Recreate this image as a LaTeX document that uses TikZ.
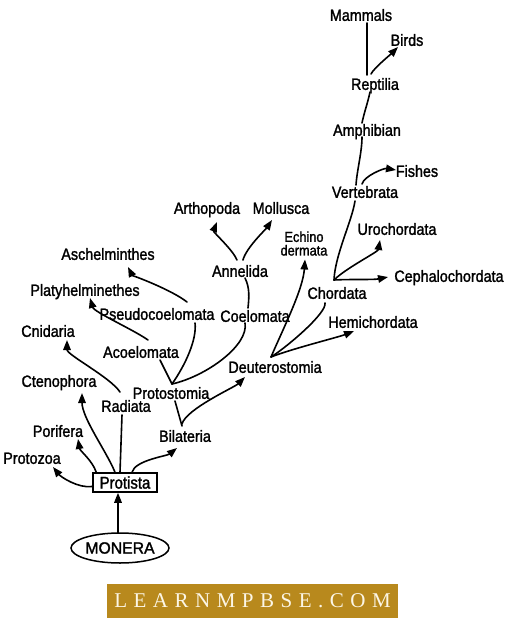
\documentclass[tikz,border=0pt]{standalone}
\usepackage{fontspec}
\setmainfont{Liberation Sans}
\newfontfamily\lblfont[FakeStretch=0.88, FakeBold=1.5]{Liberation Sans}
\newfontfamily\bannerfont{Liberation Serif}
\usetikzlibrary{arrows.meta,calc,shapes.geometric}
\definecolor{bannergold}{RGB}{184,137,29}
\definecolor{bannertext}{RGB}{252,246,230}
\begin{document}
\begin{tikzpicture}[x=1pt,y=-1pt,
  lbl/.style={font=\lblfont\fontsize{16.3}{16}\selectfont, inner sep=0pt, text height=11.7pt, text depth=0pt},
  lbltwo/.style={font=\lblfont\fontsize{14.5}{13.6}\selectfont, inner sep=0pt, align=center},
  con/.style={line width=1.6pt, line cap=round},
  arr/.style={con, -{Triangle[length=10pt,width=7.5pt]}}]
\useasboundingbox (0,0) rectangle (508,625);
\fill[white] (0,0) rectangle (508,625);

% labels
\node[lbl] (mammals) at (361,15) {Mammals};
\node[lbl] (birds) at (407,40) {Birds};
\node[lbl] (reptilia) at (375,84) {Reptilia};
\node[lbl] (amphibian) at (367,130) {Amphibian};
\node[lbl] (fishes) at (417,171) {Fishes};
\node[lbl] (vertebrata) at (365,192) {Vertebrata};
\node[lbl] (urochordata) at (397,229) {Urochordata};
\node[lbltwo] (echino) at (304,243.5) {Echino\\dermata};
\node[lbl] (cephalo) at (449,276) {Cephalochordata};
\node[lbl] (chordata) at (337,293) {Chordata};
\node[lbl] (hemi) at (373,322) {Hemichordata};
\node[lbl] (deutero) at (275,367) {Deuterostomia};
\node[lbl] (arthopoda) at (207,208) {Arthopoda};
\node[lbl] (mollusca) at (281,208) {Mollusca};
\node[lbl] (annelida) at (240,271) {Annelida};
\node[lbl] (coelomata) at (255,316) {Coelomata};
\node[lbl] (aschel) at (108,254) {Aschelminthes};
\node[lbl] (platy) at (85,290) {Platyhelminethes};
\node[lbl] (pseudo) at (157,314) {Pseudocoelomata};
\node[lbl] (cnidaria) at (48,331) {Cnidaria};
\node[lbl] (acoelomata) at (141,352) {Acoelomata};
\node[lbl] (ctenophora) at (59,381) {Ctenophora};
\node[lbl] (protostomia) at (171,393) {Protostomia};
\node[lbl] (radiata) at (126,406) {Radiata};
\node[lbl] (porifera) at (58,431) {Porifera};
\node[lbl] (bilateria) at (185,436) {Bilateria};
\node[lbl] (protozoa) at (32,458) {Protozoa};
\node[draw, line width=1.5pt, font=\lblfont\fontsize{17}{17}\selectfont, minimum width=64pt, minimum height=19pt, inner sep=0pt] (protista) at (125,482.5) {Protista};
\node[draw, ellipse, line width=1.5pt, font=\lblfont\fontsize{16.3}{16}\selectfont, minimum width=74pt, minimum height=30pt, inner sep=0pt] (monera) at (120,548) {\scalebox{1.1}[1]{MONERA}};

% junctions
\coordinate (jp) at ($(protostomia)+(1,-9)$);
\coordinate (jd) at ($(deutero)+(-4,-10)$);
\coordinate (jc) at ($(chordata)+(-3,-13)$);

% connectors
\draw[arr] ($(monera)+(-2,-15)$) -- ($(protista.south)+(-7,0)$);
\draw[arr] ($(protista.west)+(0,4)$) .. controls +(-14,2) and +(8,10) .. ($(protozoa)+(21,9)$);
\draw[arr] ($(protista.north west)+(4,0)$) .. controls +(-4,-12) and +(2,12) .. ($(porifera)+(20,8)$);
\draw[arr] ($(protista.north)+(-10,0)$) .. controls +(-8,-20) and +(0,25) .. ($(ctenophora)+(23,12)$);
\draw[con] ($(protista.north)+(-5,0)$) -- ($(radiata)+(-4,9)$);
\draw[arr] ($(radiata)+(-6,-14)$) .. controls +(-10,-15) and +(0,15) .. ($(cnidaria)+(19,9)$);
\draw[arr] ($(protista.north)+(7,0)$) .. controls +(3,-12) and +(-10,8) .. ($(bilateria)+(-8,12)$);
\draw[con] ($(protostomia)+(4,8)$) -- ($(bilateria)+(-3,-10)$);
\draw[arr] ($(bilateria)+(-3,-12)$) .. controls +(4,-15) and +(-10,10) .. ($(deutero)+(-30,10)$);

\draw[con] (jp) -- ($(acoelomata)+(19,8)$);
\draw[con] (jp) .. controls +(14,-20) and +(2,16) .. ($(pseudo)+(38,9)$);
\draw[con] (jp) .. controls +(35,-8) and +(4,22) .. ($(coelomata)+(-10,7)$);
\draw[arr] ($(acoelomata)+(7,-12)$) .. controls +(-14,-10) and +(4,14) .. ($(platy)+(5,8)$);
\draw[arr] ($(pseudo)+(30,-12)$) .. controls +(-15,-12) and +(4,8) .. ($(aschel)+(20,13)$);
\draw[con] ($(annelida)+(5,7)$) .. controls +(5,10) and +(1,-10) .. ($(coelomata)+(-7,-8)$);
\draw[arr] ($(annelida)+(-3,-11)$) .. controls +(-4,-10) and +(-4,10) .. ($(arthopoda)+(10,14)$);
\draw[arr] ($(annelida)+(3,-11)$) .. controls +(3,-12) and +(-6,9) .. ($(mollusca)+(-9,12)$);

\draw[arr] (jd) .. controls +(12,-28) and +(-2,30) .. ($(echino)+(1,16)$);
\draw[con] (jd) .. controls +(16,-10) and +(2,10) .. ($(chordata)+(-12,10)$);
\draw[arr] (jd) .. controls +(20,-8) and +(-15,6) .. ($(hemi)+(-19,9)$);

\draw[con] ($(vertebrata)+(-10,9)$) .. controls +(-3,20) and +(1,-25) .. (jc);
\draw[arr] (jc) .. controls +(12,-12) and +(-2,12) .. ($(urochordata)+(-17,11)$);
\draw[arr] (jc) .. controls +(18,-1) and +(-15,3) .. ($(cephalo)+(-61,1)$);
\draw[arr] ($(vertebrata)+(-3,-8)$) .. controls +(2,-8) and +(-12,-2) .. ($(fishes)+(-21,-1)$);
\draw[con] ($(amphibian)+(-5,7)$) .. controls +(0,15) and +(1,-15) .. ($(vertebrata)+(-9,-7)$);
\draw[con] ($(reptilia)+(-5,8)$) .. controls +(-2,10) and +(2,-10) .. ($(amphibian)+(-5,-7)$);
\draw[con] ($(mammals)+(6,8)$) -- ($(reptilia)+(-8,-9)$);
\draw[arr] ($(reptilia)+(-4,-10)$) .. controls +(3,-6) and +(-8,8) .. ($(birds)+(-9,7)$);

% banner
\node[fill=bannergold, minimum width=291pt, minimum height=34pt, inner sep=0pt, text=bannertext,
      font=\bannerfont\fontsize{21}{21}\selectfont] (banner) at (252.5,601)
  {L\kern6.5pt E\kern6.5pt A\kern6.5pt R\kern6.5pt N\kern6.5pt M\kern6.5pt P\kern6.5pt B\kern6.5pt S\kern6.5pt E\kern6.5pt .\kern6.5pt C\kern6.5pt O\kern6.5pt M};
\end{tikzpicture}
\end{document}
